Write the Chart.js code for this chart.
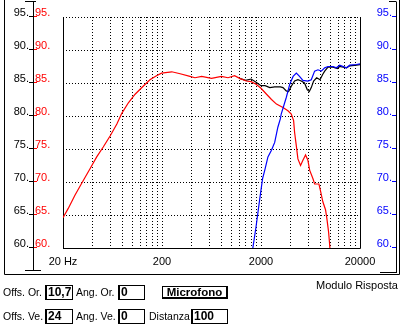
<!DOCTYPE html>
<html>
<head>
<meta charset="utf-8">
<script src="https://cdn.jsdelivr.net/npm/chart.js@4.4.1/dist/chart.umd.min.js"></script>
<style>
  body { margin: 0; background: #fff; font-family: "Liberation Sans", Arial, sans-serif; font-size: 10.5px; color: #000; }
  #wrap { position: relative; width: 403px; height: 334px; overflow: hidden; }
  #plot { position: absolute; left: 0; top: 0; width: 403px; height: 334px; }
  .t { position: absolute; white-space: nowrap; line-height: 13px; }
  .box { position: absolute; box-sizing: border-box; height: 15px; border: 1px solid #000; border-left-width: 2px;
         font-weight: bold; font-size: 12px; line-height: 13px; padding-left: 1px; }
  .btn { position: absolute; box-sizing: border-box; height: 13px; border: 1px solid #000; border-right-width: 2px;
         border-bottom-width: 2px; font-weight: bold; font-size: 11.5px; line-height: 10px; text-align: center; }
</style>
</head>
<body>
<div id="wrap">
  <div id="plot"><canvas id="risposta"></canvas></div>

  <div class="t" style="left:3px; top:286px;">Offs. Or.</div>
  <div class="box" style="left:45px; top:285px; width:28px;">10,7</div>
  <div class="t" style="left:76px; top:286px;">Ang. Or.</div>
  <div class="box" style="left:118px; top:285px; width:27px;">0</div>
  <div class="btn" style="left:162px; top:286px; width:66px;">Microfono</div>
  <div class="t" style="left:316px; top:279px; font-size:11px;">Modulo Risposta</div>

  <div class="t" style="left:3px; top:310px;">Offs. Ve.</div>
  <div class="box" style="left:45px; top:309px; width:28px;">24</div>
  <div class="t" style="left:76px; top:310px;">Ang. Ve.</div>
  <div class="box" style="left:118px; top:309px; width:27px;">0</div>
  <div class="t" style="left:149px; top:310px;">Distanza</div>
  <div class="box" style="left:191px; top:309px; width:37px;">100</div>
</div>

<script>
// level ticks (dB), shared by the three label columns
const dbTicks = [95, 90, 85, 80, 75, 70, 65, 60];

// frequency labels on the bottom axis
const freqLabelValues = [20, 200, 2000, 20000];
const freqLabels = ["20 Hz", "200", "2000", "20000"];

// vertical grid: 20, 40 ... 200, 400 ... 2000, 4000 ... 20000
const freqGrid = [20, 40, 60, 80, 100, 120, 140, 160, 180,
  200, 400, 600, 800, 1000, 1200, 1400, 1600, 1800,
  2000, 4000, 6000, 8000, 10000, 12000, 14000, 16000, 18000, 20000];

// woofer (red)
const redFreq = [20, 22.6, 26.4, 30.9, 37.5, 43.8, 51, 60, 70, 78.5, 91.5, 107, 129, 151, 176, 198,
  251, 305, 383, 431, 503, 633, 797, 928, 1082, 1217, 1418, 1590, 1785, 2000, 2275, 2553,
  2865, 3336, 3742, 4045, 4270, 4370, 4545, 4720, 5020, 5300, 5640, 5950, 6200, 6700,
  6960, 7690, 7940, 8430, 8970, 9250, 9620, 9840, 10100];
const redDb = [64.6, 66.0, 68.0, 69.8, 72.0, 73.8, 75.3, 77.0, 78.8, 80.4, 82.0, 83.3, 84.5, 85.5, 86.1, 86.5,
  86.7, 86.4, 86.0, 85.8, 86.0, 85.7, 86.0, 85.8, 86.1, 85.7, 85.3, 85.2, 84.8, 84.2, 83.3, 82.5,
  81.8, 81.3, 80.8, 80.3, 79.3, 77.5, 75.5, 73.5, 72.5, 73.3, 74.1, 73.3, 71.8, 70.5,
  69.7, 69.7, 68.8, 67.0, 65.8, 64.5, 62.5, 60.8, 58.5];

// tweeter (blue)
const blueFreq = [1620, 1654, 1785, 1945, 2075, 2200, 2350, 2550, 2750, 2960, 3140, 3200, 3600, 3900,
  4220, 4550, 4900, 5300, 5950, 6440, 6960, 7520, 8130, 8800, 9500, 10680, 11550, 12480,
  14600, 15770, 18420, 20000];
const blueDb = [58.5, 60.0, 63.3, 67.5, 70.5, 72.0, 73.8, 74.8, 76.0, 78.3, 79.6, 80.3, 82.8, 84.8,
  86.0, 86.5, 86.0, 85.4, 85.3, 85.5, 86.8, 87.0, 86.8, 87.3, 87.5, 87.5, 87.3, 87.7,
  87.3, 87.7, 87.8, 87.9];

// sum (black)
const blackFreq = [1217, 1400, 1590, 1785, 2000, 2200, 2455, 2750, 3140, 3336, 3600, 3800, 4045, 4370,
  4720, 5100, 5500, 5860, 6150, 6440, 6800, 7300, 7890, 8390, 8800, 9500, 10680, 11800,
  12480, 14600, 15770, 18420, 20000];
const blackDb = [85.7, 85.4, 85.6, 85.1, 84.6, 84.6, 84.3, 84.4, 84.4, 84.3, 83.8, 83.7, 84.5, 85.3,
  85.5, 85.3, 85.0, 84.0, 83.7, 84.3, 85.3, 85.8, 85.5, 86.3, 86.8, 87.4, 87.4, 87.2,
  87.5, 87.3, 87.6, 87.7, 87.8];

const pts = (fs, ys) => fs.map((f, i) => ({ x: f, y: ys[i] }));

// panel decorations: axis labels, side rulers and the outer frame
const panel = {
  id: "panel",
  beforeDatasetsDraw(chart) {
    const { ctx, chartArea: a } = chart;
    const l = Math.round(a.left) + 0.5, r = Math.round(a.right) + 0.5, b = Math.round(a.bottom) + 0.5;
    ctx.save();
    ctx.strokeStyle = "#000";
    ctx.lineWidth = 1;
    ctx.beginPath();
    ctx.moveTo(l, Math.round(a.top));
    ctx.lineTo(l, b);
    ctx.lineTo(r, b);
    ctx.lineTo(r, Math.round(a.top));
    ctx.stroke();
    ctx.restore();
  },
  afterDraw(chart) {
    const { ctx, scales: { x, y } } = chart;
    ctx.save();
    ctx.font = "11px 'Liberation Sans', Arial, sans-serif";
    ctx.lineWidth = 1;

    // outer frame and side rulers
    ctx.strokeStyle = "#000";
    ctx.beginPath();
    ctx.moveTo(4.5, -2); ctx.lineTo(4.5, 274.5); ctx.lineTo(399.5, 274.5); ctx.lineTo(399.5, -2);
    ctx.moveTo(25, 1.5); ctx.lineTo(36, 1.5);
    ctx.moveTo(33.5, 1.5); ctx.lineTo(33.5, 270.5);
    ctx.moveTo(25, 270.5); ctx.lineTo(41, 270.5);
    ctx.moveTo(389, 1.5); ctx.lineTo(396, 1.5);
    ctx.moveTo(396.5, 1.5); ctx.lineTo(396.5, 272.5);
    ctx.moveTo(380, 272.5); ctx.lineTo(397, 272.5);
    ctx.stroke();

    // level labels: black and red on the left, blue on the right
    dbTicks.forEach(v => {
      const py = Math.round(y.getPixelForValue(v));
      ctx.textBaseline = "alphabetic";
      ctx.fillStyle = "#000";
      ctx.textAlign = "right";
      ctx.fillText(v + ".", 29, py - 1);
      ctx.fillStyle = "#ff0000";
      ctx.textAlign = "left";
      ctx.fillText(v + ".", 35, py - 1);
      ctx.fillStyle = "#0000ff";
      ctx.textAlign = "right";
      ctx.fillText(v + ".", 392, py - 1);

      ctx.beginPath();
      ctx.strokeStyle = "#000";
      ctx.moveTo(29, py - 0.5); ctx.lineTo(33, py - 0.5);
      ctx.stroke();
      ctx.beginPath();
      ctx.strokeStyle = "#ff0000";
      ctx.moveTo(34, py - 0.5); ctx.lineTo(37, py - 0.5);
      ctx.stroke();
      ctx.beginPath();
      ctx.strokeStyle = "#0000ff";
      ctx.moveTo(392, py - 0.5); ctx.lineTo(396, py - 0.5);
      ctx.stroke();
    });

    // frequency labels
    ctx.fillStyle = "#000";
    ctx.textAlign = "center";
    freqLabelValues.forEach((f, i) => {
      ctx.fillText(freqLabels[i], x.getPixelForValue(f), 265);
    });
    ctx.restore();
  }
};

new Chart(document.getElementById("risposta"), {
  type: "line",
  data: {
    datasets: [
      { data: pts(blueFreq, blueDb), borderColor: "#0000ff", order: 0 },
      { data: pts(redFreq, redDb), borderColor: "#ff0000", order: 1 },
      { data: pts(blackFreq, blackDb), borderColor: "#000000", order: 2 },
    ],
  },
  options: {
    responsive: true,
    maintainAspectRatio: false,
    animation: false,
    events: [],
    layout: { padding: { left: 63, right: 43, top: 17, bottom: 86 } },
    elements: {
      line: { borderWidth: 1.2, tension: 0 },
      point: { radius: 0 },
    },
    datasets: { line: { clip: 0 } },
    plugins: {
      legend: { display: false },
      tooltip: { enabled: false },
    },
    scales: {
      x: {
        type: "logarithmic",
        min: 20,
        max: 20000,
        afterBuildTicks: s => { s.ticks = freqGrid.map(v => ({ value: v })); },
        ticks: { display: false },
        grid: { color: "#000", lineWidth: 1, drawTicks: false },
        border: { display: false, dash: [1, 2] },
      },
      y: {
        min: 60,
        max: 95,
        afterBuildTicks: s => { s.ticks = dbTicks.map(v => ({ value: v })); },
        ticks: { display: false },
        grid: { color: "#000", lineWidth: 1, drawTicks: false },
        border: { display: false, dash: [1, 2] },
      },
    },
  },
  plugins: [panel],
});
</script>
</body>
</html>
